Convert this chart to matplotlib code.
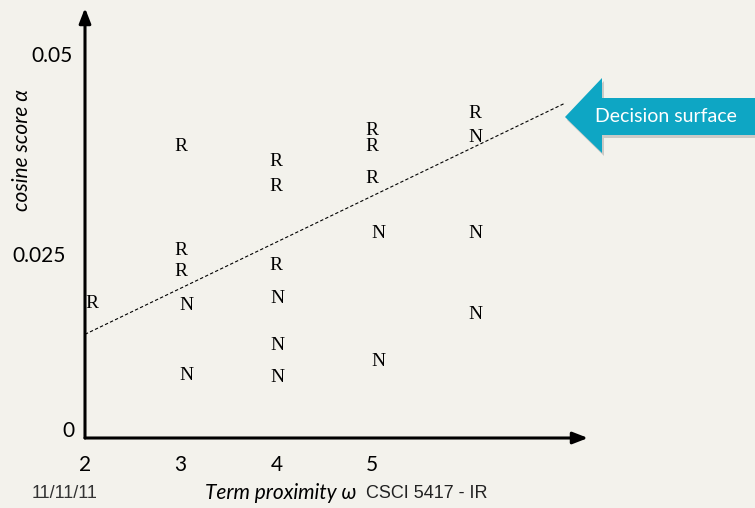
import matplotlib
matplotlib.use("Agg")
import matplotlib.pyplot as plt
from matplotlib.patches import Polygon
from matplotlib.transforms import ScaledTranslation

# data
r_x = [2.07, 3.0, 3.0, 3.0, 3.99, 3.99, 3.99, 5.0, 5.0, 5.0, 6.075]
r_y = [0.0175, 0.0379, 0.0244, 0.0217, 0.0360, 0.0327, 0.0224, 0.0401, 0.0380, 0.0338, 0.0422]
n_x = [3.06, 3.06, 4.01, 4.01, 4.01, 5.07, 5.07, 6.075, 6.075, 6.075]
n_y = [0.0172, 0.0082, 0.0182, 0.0120, 0.0079, 0.0266, 0.0099, 0.0391, 0.0266, 0.0161]
line_x = [2.0, 7.016]
line_y = [0.0135, 0.0436]
x_ticks = [2, 3, 4, 5]
y_ticks = [0, 0.025, 0.05]
y_ticklabels = ["0", "0.025", "0.05"]

bg = "#F3F2EC"
sans = ["Lato", "DejaVu Sans"]
W, H = 755, 508

fig = plt.figure(figsize=(W / 100, H / 100), dpi=100, facecolor=bg)
ax = fig.add_axes([85 / W, (H - 438) / H, (588 - 85) / W, (438 - 8) / H])
ax.set_facecolor(bg)
ax.set_xlim(2, 2 + (588 - 85) / 95.7)
ax.set_ylim(0, (438 - 8) / 7680)

for s in ax.spines.values():
    s.set_visible(False)

# axes with arrow heads
arrow = dict(arrowstyle="-|>,head_length=0.9,head_width=0.35", color="black", lw=2.2,
             shrinkA=0, shrinkB=0)
ax.annotate("", xy=(1, 0), xytext=(0, 0), xycoords="axes fraction", arrowprops=arrow)
ax.annotate("", xy=(0, 1), xytext=(0, 0), xycoords="axes fraction", arrowprops=arrow)

# R / N points as letters
for x, y in zip(r_x, r_y):
    ax.text(x, y, "R", family="Liberation Serif", fontsize=14, ha="center", va="center")
for x, y in zip(n_x, n_y):
    ax.text(x, y, "N", family="Liberation Serif", fontsize=14, ha="center", va="center")

ax.plot(line_x, line_y, color="black", lw=0.8, ls=(0, (3, 2)))

ax.set_xticks(x_ticks)
ax.set_xticklabels([str(t) for t in x_ticks], family=sans, fontsize=15)
ax.set_yticks(y_ticks)
ax.set_yticklabels(y_ticklabels, family=sans, fontsize=15)
ax.tick_params(length=0)
ax.tick_params(axis="x", pad=12)
ax.tick_params(axis="y", pad=11)

# nudge the slide's hand-placed y labels
shifts = [(5, 9), (-4, -8), (3, 0)]
for lab, (dx, dy) in zip(ax.get_yticklabels(), shifts):
    lab.set_transform(lab.get_transform() + ScaledTranslation(dx / 100, dy / 100, fig.dpi_scale_trans))

ax.set_ylabel("cosine score α", family=sans, style="italic", fontsize=15)
ax.yaxis.set_label_coords((22 - 85) / 503, (438 - 150) / 430)
ax.yaxis.label.set_va("center")
ax.set_xlabel("Term proximity ω", family=sans, style="italic", fontsize=15)
ax.xaxis.set_label_coords((281 - 85) / 503, (438 - 493) / 430)
ax.xaxis.label.set_va("center")

# footer
fig.text(32 / W, (H - 494) / H, "11/11/11", family="Liberation Sans", fontsize=13,
         color="#333333", va="center")
fig.text(366 / W, (H - 494) / H, "CSCI 5417 - IR", family="Liberation Sans", fontsize=13,
         color="#222222", va="center")

# "Decision surface" callout arrow
def px(pts, dx=0, dy=0):
    return [((x + dx) / W, (H - y - dy) / H) for x, y in pts]

shape = [(565, 117), (602, 78), (602, 98), (760, 98), (760, 135), (602, 135), (602, 153)]
fig.patches.append(Polygon(px(shape, 2, 3), closed=True, transform=fig.transFigure,
                           facecolor="#9a9a9a", alpha=0.45, edgecolor="none"))
fig.patches.append(Polygon(px(shape), closed=True, transform=fig.transFigure,
                           facecolor="#0EA6C4", edgecolor="none"))
fig.text(595 / W, (H - 117) / H, "Decision surface", family=sans, fontsize=14,
         color="white", va="center")

fig.savefig("out.png", dpi=100, facecolor=bg)
